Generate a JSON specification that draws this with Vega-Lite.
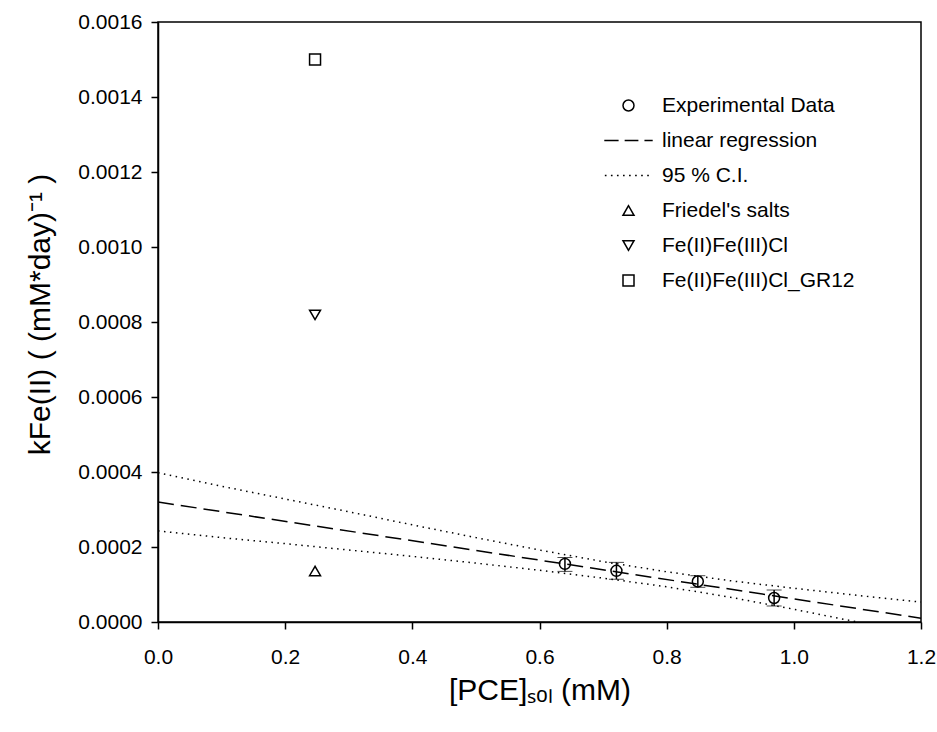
{
  "$schema": "https://vega.github.io/schema/vega-lite/v6.json",
  "autosize": "none",
  "width": 763,
  "height": 600,
  "padding": {"left": 158, "top": 22, "right": 16, "bottom": 110},
  "background": "white",
  "config": {
    "view": {"stroke": "black", "strokeWidth": 1.5},
    "font": "Liberation Sans",
    "axis": {
      "grid": false,
      "domainColor": "black",
      "domainWidth": 1.5,
      "tickColor": "black",
      "tickWidth": 1.5,
      "tickSize": 7,
      "labelColor": "black",
      "labelFont": "Liberation Sans",
      "labelFontSize": 21,
      "titleColor": "black",
      "titleFont": "Liberation Sans",
      "titleFontSize": 30,
      "titleFontWeight": "normal"
    }
  },
  "datasets": {
    "pts": [
      {"x": 0.640, "y": 0.000155, "lo": 0.000135, "hi": 0.000172, "series": "Experimental Data"},
      {"x": 0.721, "y": 0.0001365, "lo": 0.000114, "hi": 0.000159, "series": "Experimental Data"},
      {"x": 0.849, "y": 0.000108, "lo": 0.0000925, "hi": 0.0001235, "series": "Experimental Data"},
      {"x": 0.969, "y": 0.000064, "lo": 0.0000427, "hi": 0.0000853, "series": "Experimental Data"},
      {"x": 0.247, "y": 0.000136, "series": "Friedel's salts"},
      {"x": 0.247, "y": 0.000819, "series": "Fe(II)Fe(III)Cl"},
      {"x": 0.247, "y": 0.0015, "series": "Fe(II)Fe(III)Cl_GR12"}
    ],
    "fit": [
      {"x": 0.0, "y": 0.00032},
      {"x": 1.2, "y": 0.00001}
    ],
    "ci": [
      {"x": 0.0, "y": 0.000398, "band": "upper"},
      {"x": 0.1, "y": 0.000362, "band": "upper"},
      {"x": 0.2, "y": 0.000328, "band": "upper"},
      {"x": 0.3, "y": 0.000294, "band": "upper"},
      {"x": 0.4, "y": 0.000259, "band": "upper"},
      {"x": 0.5, "y": 0.000225, "band": "upper"},
      {"x": 0.6, "y": 0.000192, "band": "upper"},
      {"x": 0.7, "y": 0.000161, "band": "upper"},
      {"x": 0.8, "y": 0.000134, "band": "upper"},
      {"x": 0.9, "y": 0.000110, "band": "upper"},
      {"x": 1.0, "y": 0.000090, "band": "upper"},
      {"x": 1.1, "y": 0.000071, "band": "upper"},
      {"x": 1.2, "y": 0.000053, "band": "upper"},
      {"x": 0.0, "y": 0.000243, "band": "lower"},
      {"x": 0.1, "y": 0.000225, "band": "lower"},
      {"x": 0.2, "y": 0.000209, "band": "lower"},
      {"x": 0.3, "y": 0.000192, "band": "lower"},
      {"x": 0.4, "y": 0.000175, "band": "lower"},
      {"x": 0.5, "y": 0.000157, "band": "lower"},
      {"x": 0.6, "y": 0.000138, "band": "lower"},
      {"x": 0.7, "y": 0.000117, "band": "lower"},
      {"x": 0.8, "y": 0.000094, "band": "lower"},
      {"x": 0.9, "y": 0.000066, "band": "lower"},
      {"x": 1.0, "y": 0.000034, "band": "lower"},
      {"x": 1.1, "y": 0.0, "band": "lower"}
    ]
  },
  "encoding": {
    "x": {
      "field": "x", "type": "quantitative",
      "scale": {"domain": [0, 1.2], "nice": false, "zero": false},
      "axis": {
        "values": [0, 0.2, 0.4, 0.6, 0.8, 1.0, 1.2],
        "format": ".1f",
        "labelFlush": false,
        "labelPadding": 17,
        "title": "[PCE]ₛₒₗ (mM)",
        "titleY": 68,
        "titleBaseline": "middle"
      }
    },
    "y": {
      "field": "y", "type": "quantitative",
      "scale": {"domain": [0, 0.0016], "nice": false, "zero": false},
      "axis": {
        "values": [0, 0.0002, 0.0004, 0.0006, 0.0008, 0.001, 0.0012, 0.0014, 0.0016],
        "format": ".4f",
        "labelFlush": false,
        "labelPadding": 9,
        "title": "kFe(II) ( (mM*day)⁻¹ )",
        "titleX": -118,
        "titleY": 292,
        "titleBaseline": "middle",
        "titleAngle": -90
      }
    }
  },
  "layer": [
    {
      "data": {"name": "ci"},
      "mark": {"type": "line", "color": "black", "strokeWidth": 1.5, "strokeDash": [1.5, 4.5], "clip": true},
      "encoding": {"detail": {"field": "band"}}
    },
    {
      "data": {"name": "fit"},
      "mark": {"type": "line", "color": "black", "strokeWidth": 1.5, "strokeDash": [16, 7], "clip": true},
      "encoding": {}
    },
    {
      "data": {"name": "pts"},
      "transform": [{"filter": "datum.lo != null"}],
      "mark": {"type": "errorbar", "ticks": {"size": 15, "color": "black", "strokeWidth": 1.5}, "rule": {"color": "black", "strokeWidth": 1.5}},
      "encoding": {
        "y": {"field": "lo", "type": "quantitative"},
        "y2": {"field": "hi"}
      }
    },
    {
      "data": {"name": "pts"},
      "mark": {"type": "point", "filled": false, "color": "black", "strokeWidth": 1.5, "size": 120, "opacity": 1},
      "encoding": {
        "shape": {
          "field": "series", "type": "nominal",
          "scale": {
            "domain": ["Experimental Data", "linear regression", "95 % C.I.", "Friedel's salts", "Fe(II)Fe(III)Cl", "Fe(II)Fe(III)Cl_GR12"],
            "range": [
              "circle",
              "M-4.4,0H-1.8M-0.7,0H1.8M2.9,0H4.4",
              "M-4.3,0h0.3M-3.2,0h0.3M-2.1,0h0.3M-1.0,0h0.3M0.1,0h0.3M1.2,0h0.3M2.3,0h0.3M3.4,0h0.3",
              "triangle-up",
              "triangle-down",
              "square"
            ]
          },
          "legend": {
            "title": null,
            "orient": "none",
            "legendX": 460,
            "legendY": 73,
            "padding": 0,
            "symbolSize": 121,
            "symbolFillColor": "transparent",
            "symbolStrokeColor": "black",
            "symbolStrokeWidth": 1.5,
            "labelFont": "Liberation Sans",
            "labelFontSize": 21,
            "labelColor": "black",
            "labelOffset": 23,
            "rowPadding": 13,
            "labelLimit": 400
          }
        }
      }
    }
  ]
}
